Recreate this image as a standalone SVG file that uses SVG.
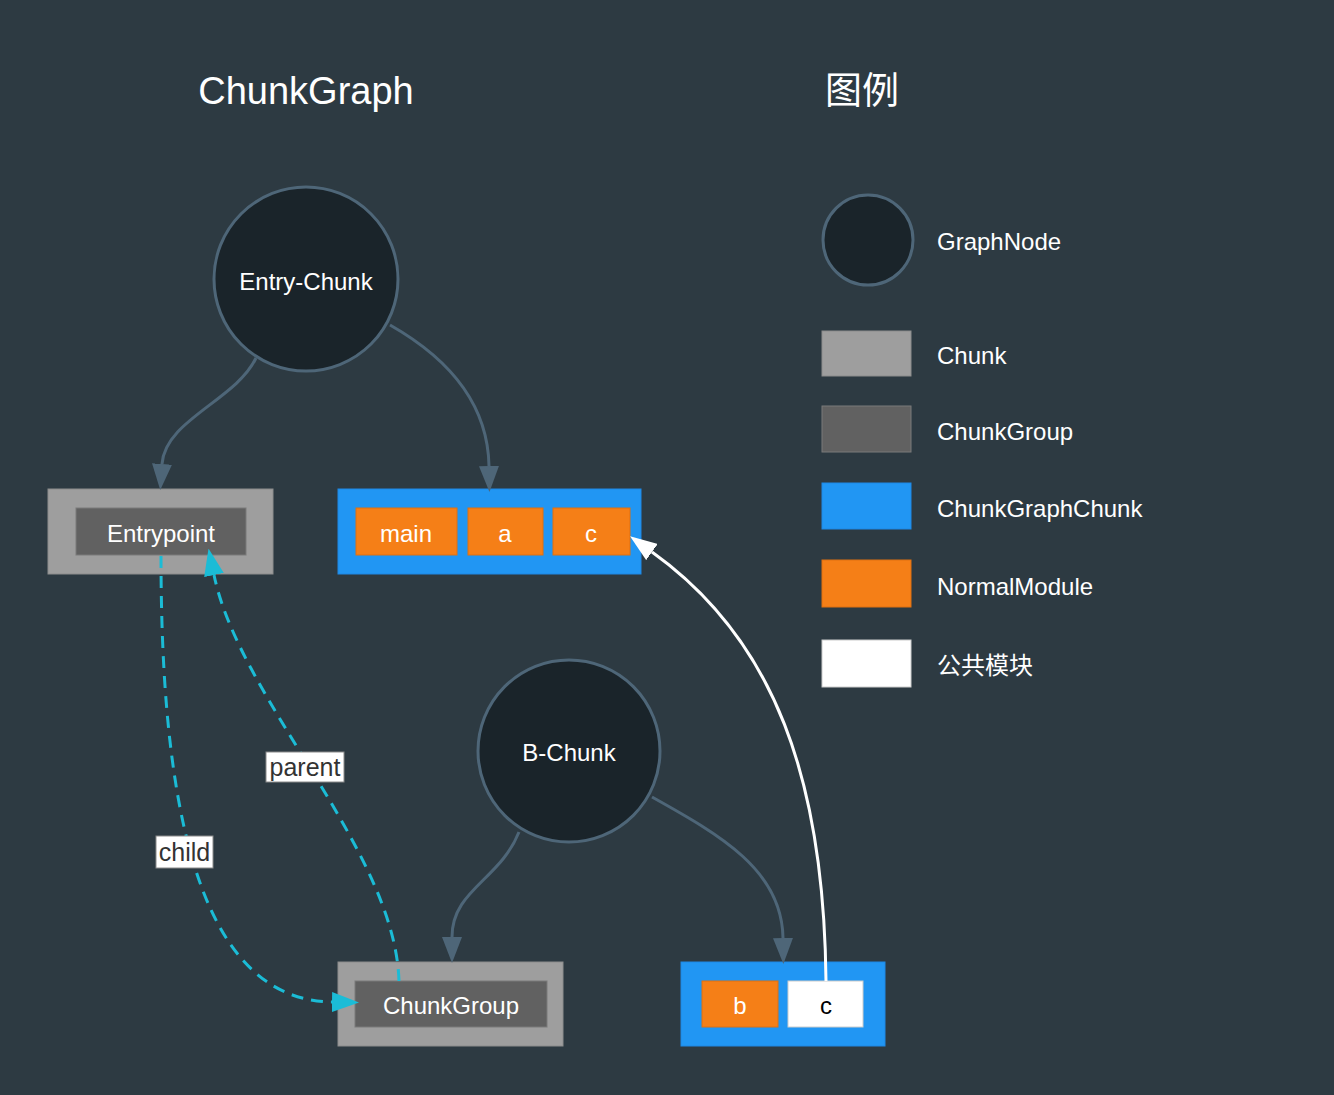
<svg xmlns="http://www.w3.org/2000/svg" width="1334" height="1095" viewBox="0 0 1334 1095">
<defs>
<style>
text{font-family:"Liberation Sans",Arial,"Noto Sans CJK SC",sans-serif;}
.node{fill:#1a242a;stroke:#4e6678;stroke-width:3;}
.lbl{fill:#ffffff;font-size:24px;text-anchor:middle;dominant-baseline:central;}
.leg{fill:#ffffff;font-size:24px;dominant-baseline:central;}
.chunk{fill:#9e9e9e;stroke:#8c8c8c;stroke-width:1;}
.group{fill:#616161;stroke:#7a7a7a;stroke-width:1;}
.cgc{fill:#2196f3;stroke:#1e88e5;stroke-width:1;}
.mod{fill:#f57f17;stroke:#e07010;stroke-width:1;}
.common{fill:#ffffff;stroke:#cccccc;stroke-width:1;}
.edge{fill:none;stroke:#4e6678;stroke-width:3;}
.dash{fill:none;stroke:#1bbcd6;stroke-width:3;stroke-dasharray:12 8;}
.white{fill:none;stroke:#ffffff;stroke-width:3;}
.tag{fill:#ffffff;stroke:#8a8a8a;stroke-width:1;}
.tagt{fill:#333333;font-size:25px;text-anchor:middle;dominant-baseline:central;}
</style>
<marker id="ag" markerUnits="userSpaceOnUse" viewBox="0 0 26 20" refX="0" refY="10" markerWidth="26" markerHeight="20" orient="auto"><path d="M0,0 L26,10 L0,20 z" fill="#4e6678"/></marker>
<marker id="ac" markerUnits="userSpaceOnUse" viewBox="0 0 27 20" refX="0" refY="10" markerWidth="27" markerHeight="20" orient="auto"><path d="M0,0 L27,10 L0,20 z" fill="#1bbcd6"/></marker>
<marker id="aw" markerUnits="userSpaceOnUse" viewBox="0 0 27 20" refX="0" refY="10" markerWidth="27" markerHeight="20" orient="auto"><path d="M0,0 L27,10 L0,20 z" fill="#ffffff"/></marker>
</defs>
<rect x="0" y="0" width="1334" height="1095" fill="#2d3a42"/>

<text x="306" y="91" fill="#ffffff" font-size="38" text-anchor="middle" dominant-baseline="central">ChunkGraph</text>
<text x="862" y="91" fill="#ffffff" font-size="37" text-anchor="middle" dominant-baseline="central">图例</text>

<g id="entry-chunk">
<circle class="node" cx="306" cy="279" r="92"/>
<text class="lbl" x="306" y="281">Entry-Chunk</text>
</g>

<g id="entrypoint">
<rect class="chunk" x="48" y="489" width="225" height="85"/>
<rect class="group" x="76" y="508" width="170" height="47"/>
<text class="lbl" x="161" y="533">Entrypoint</text>
</g>

<g id="entry-cgc">
<rect class="cgc" x="338" y="489" width="303" height="85"/>
<rect class="mod" x="356" y="508" width="101" height="47"/>
<text class="lbl" x="406" y="533">main</text>
<rect class="mod" x="468" y="508" width="75" height="47"/>
<text class="lbl" x="505" y="533">a</text>
<rect class="mod" x="553" y="508" width="77" height="47"/>
<text class="lbl" x="591" y="533">c</text>
</g>

<g id="b-chunk">
<circle class="node" cx="569" cy="751" r="91"/>
<text class="lbl" x="569" y="752">B-Chunk</text>
</g>

<g id="chunkgroup">
<rect class="chunk" x="338" y="962" width="225" height="84"/>
<rect class="group" x="355" y="981" width="192" height="46"/>
<text class="lbl" x="451" y="1005">ChunkGroup</text>
</g>

<g id="b-cgc">
<rect class="cgc" x="681" y="962" width="204" height="84"/>
<rect class="mod" x="702" y="981" width="76" height="46"/>
<text class="lbl" x="740" y="1005">b</text>
<rect class="common" x="788" y="981" width="75" height="46"/>
<text class="lbl" x="826" y="1005" style="fill:#000000">c</text>
</g>

<g id="connectors">
<path class="edge" d="M256,358 C236,400 165,420 162,464" marker-end="url(#ag)"/>
<path class="edge" d="M390,325 C455,362 488,410 489,466" marker-end="url(#ag)"/>
<path class="edge" d="M519,832 C500,880 452,890 452,937" marker-end="url(#ag)"/>
<path class="edge" d="M652,797 C720,835 782,870 783,938" marker-end="url(#ag)"/>
<path class="white" d="M826,981 C824,780 775,640 652,552" marker-end="url(#aw)"/>
<path class="dash" d="M161,556 C161,780 190,1000 332,1002" marker-end="url(#ac)"/>
<path class="dash" d="M399,981 C395,850 240,700 214,575" marker-end="url(#ac)"/>
<g id="label-child">
<rect class="tag" x="156" y="836" width="57" height="32"/>
<text class="tagt" x="184.5" y="852">child</text>
</g>
<g id="label-parent">
<rect class="tag" x="266" y="752" width="78" height="30"/>
<text class="tagt" x="305" y="767">parent</text>
</g>
</g>

<g id="legend">
<g id="legend-graphnode">
<circle class="node" cx="868" cy="240" r="45"/>
<text class="leg" x="937" y="241">GraphNode</text>
</g>
<g id="legend-chunk">
<rect class="chunk" x="822" y="331" width="89" height="45"/>
<text class="leg" x="937" y="355">Chunk</text>
</g>
<g id="legend-chunkgroup">
<rect class="group" x="822" y="406" width="89" height="46"/>
<text class="leg" x="937" y="431">ChunkGroup</text>
</g>
<g id="legend-cgc">
<rect class="cgc" x="822" y="483" width="89" height="46"/>
<text class="leg" x="937" y="508">ChunkGraphChunk</text>
</g>
<g id="legend-module">
<rect class="mod" x="822" y="560" width="89" height="47"/>
<text class="leg" x="937" y="586">NormalModule</text>
</g>
<g id="legend-common">
<rect class="common" x="822" y="640" width="89" height="47"/>
<text class="leg" x="937" y="665">公共模块</text>
</g>
</g>
</svg>
